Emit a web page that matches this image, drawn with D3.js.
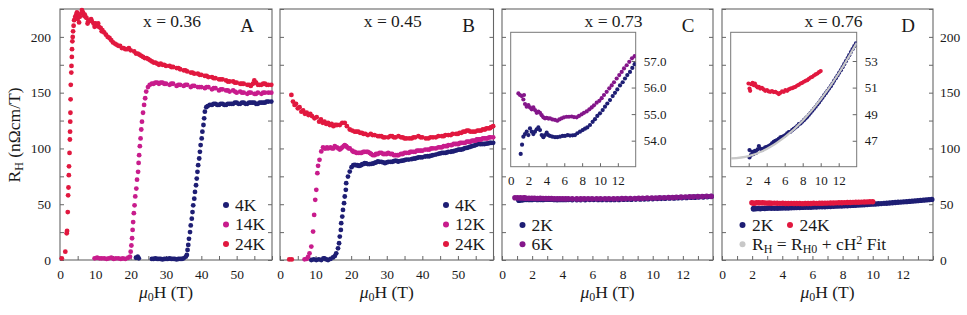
<!DOCTYPE html>
<html>
<head>
<meta charset="utf-8">
<script src="https://cdn.jsdelivr.net/npm/d3@7"></script>
<style>
body { margin: 0; background: #fff; }
svg text { fill: #1a1a1a; }
</style>
</head>
<body>
<svg id="chart" width="967" height="315"></svg>
<script>
// ---- data: [mu0H (T), R_H (nOhm cm/T)] ----
var a24K = [[0.5,1.5],[1.5,7.5],[1.9,24],[2.0,26],[2.2,43],[2.3,58],[2.4,65],[2.5,76],[2.55,84],[2.7,96],[2.8,108],[2.85,115],[2.9,124],[2.95,132],[3.0,144],[3.05,157],[3.2,168],[3.25,174],[3.35,182],[3.4,189],[3.5,196],[3.6,200],[3.7,205],[3.85,210],[4.0,215],[4.3,218],[4.6,220],[4.8,222],[5.0,216],[5.3,219],[5.4,213],[5.6,218],[6.0,221],[6.2,224],[6.5,222],[6.8,219],[7.0,220],[7.2,218],[7.5,217],[7.8,212],[8.0,214],[8.5,215],[8.8,216],[9.0,214],[9.5,212],[9.8,209],[10,212],[10.5,210],[10.8,212],[11,209],[11.5,208],[11.8,205],[12,206],[12.5,204],[13,202],[13.5,200],[14,199],[14.5,197],[15,195],[15.5,194],[16,193],[16.5,192],[17,192],[17.5,190],[18,190],[18.5,189],[19,189],[19.5,190],[20,188],[21,187],[21.5,185],[22,185],[22.5,184],[23,183],[23.5,182],[24,181],[24.5,181],[25,180],[25.5,179],[26,178],[26.5,177],[27,177],[27.5,176],[28,175],[28.5,176],[29,175],[29.5,175],[30,174],[31,174],[31.5,173],[32,173],[33,172],[33.5,172],[34,171],[35,170],[35.5,170],[36,169],[37,168],[37.5,168],[38,167],[39,167],[39.5,166],[40,166],[41,165],[41.5,165],[42,164],[43,164],[43.5,163],[44,163],[45,162],[45.5,162],[46,162],[47,161],[47.5,160],[48,160],[49,160],[49.5,159],[50,159],[51,158],[51.5,158],[52,158],[53,157],[53.5,157],[54,156],[54.6,158],[55,161],[55.5,159],[56,157],[56.5,157],[57,157],[57.5,158],[58,158],[58.5,157],[59,157],[59.8,157]];
var a14K = [[9.8,1.5],[10.5,2],[11.2,1.5],[11.8,1.5],[12.5,1.5],[13.2,1],[13.8,1.5],[14.5,2],[15.2,1],[15.8,1.5],[16.5,1.5],[17.2,1],[17.8,1.5],[18.5,1],[19.3,2],[19.8,3],[20.0,7.5],[20.2,13],[20.4,19.5],[20.55,27],[20.7,34],[20.9,42],[21.1,49],[21.3,57],[21.6,64],[21.8,72],[22.1,79],[22.25,87],[22.4,94],[22.6,102],[22.8,109],[23.0,117],[23.2,124],[23.5,132],[23.8,139],[24.1,145],[24.4,151],[24.9,155],[25.4,157],[26,158],[26.5,158],[27,159],[27.5,159],[28,158],[28.5,159],[29,159],[29.5,158],[30,158],[31,157],[31.5,158],[32,158],[33,156],[33.5,157],[34,157],[35,156],[35.5,157],[36,157],[37,155],[37.5,156],[38,156],[39,155],[39.5,155],[40,155],[41,154],[41.5,155],[42,155],[43,153],[43.5,154],[44,154],[45,152],[45.5,153],[46,153],[47,152],[47.5,152],[48,151],[49,152],[49.5,151],[50,150],[51,151],[51.5,150],[52,150],[53,149],[53.5,150],[54,150],[55,149],[55.5,149],[56,150],[57,149],[57.5,150],[58,150],[59,150],[59.8,150]];
var a4K = [[21.5,2],[22,3],[22.3,1.5],[26,1],[26.5,1],[27,1.5],[27.5,1],[28,1],[28.5,1],[29,0.5],[29.5,1],[30,1],[30.5,1],[31,1.5],[31.5,1],[32,1],[32.5,1],[33,0.5],[33.5,1],[34,1],[34.5,1],[35,1.5],[35.6,3],[35.9,4.5],[36.1,9],[36.3,13.5],[36.5,19],[36.8,25],[37.0,31],[37.3,37],[37.5,43],[37.7,49],[38.0,55],[38.2,61],[38.5,67],[38.7,73],[38.9,79],[39.1,85],[39.4,91],[39.6,97],[39.8,103],[40.1,109],[40.3,115],[40.6,121],[40.8,127],[41.0,133],[41.4,137],[41.8,138],[42.4,139],[43,139],[43.5,140],[44,140],[44.5,139],[45,139],[45.5,140],[46,140],[46.5,139],[47,139],[47.5,140],[48,140],[48.5,140],[49,140],[49.5,141],[50,141],[50.5,140],[51,140],[51.5,141],[52,141],[52.5,140],[53,140],[53.5,141],[54,141],[54.5,141],[55,141],[55.5,140],[56,140],[56.5,141],[57,141],[57.5,141],[58,141],[58.5,142],[59,142],[59.8,142]];

var b24K = [[2.6,0.5],[3.3,0.5],[3.2,148],[3.65,142],[4.1,139],[4.5,140],[5.0,136],[5.5,137],[6.0,133],[6.5,134],[7.0,131],[7.5,132],[8.0,130],[8.5,131],[9.0,129],[9.7,127],[10.3,128],[11,124],[11.5,126],[12,123],[12.5,124],[13,122],[13.5,123],[14,121],[14.5,122],[15,120],[15.5,121],[16,121],[16.8,121],[17.5,123],[18.2,123],[18.8,120],[19.6,117],[20.3,116],[21,115],[21.5,115],[22,115],[22.5,114],[23,114],[23.5,113],[24,113],[24.7,112],[25.5,113],[26,112],[26.6,112],[27.5,111],[28,111],[28.5,111],[29,110],[29.5,110],[30.4,110],[31,111],[31.5,111],[32,110],[32.5,110],[33.3,111],[34,110],[34.5,110],[35,109],[35.5,109],[36.3,109],[37,109],[37.5,110],[38,110],[38.9,111],[39.5,110],[40,110],[41,109],[41.7,109],[42.3,110],[43,110],[43.8,110],[44.5,111],[45.5,111],[46,111],[46.5,112],[47.3,112],[48,112],[48.5,113],[49.5,113],[50,113],[50.5,114],[51,114],[51.5,115],[52,115],[52.5,116],[53,116],[53.5,115],[54.2,115],[54.8,115],[55.5,116],[56,116],[56.5,116],[57,117],[57.6,117],[58,118],[58.5,118],[59,118],[59.3,119],[59.9,120]];
var b12K = [[6.9,0.6],[7.5,1],[7.9,2.7],[8.3,6],[8.8,12],[9.3,25.5],[9.6,40.4],[9.9,53.9],[10.2,62.9],[10.5,77.8],[10.7,84.4],[11.1,89.8],[11.6,97.3],[12.1,101],[12.5,100],[12.8,100],[13.2,101],[13.5,100],[14.2,101],[14.6,100],[15,100],[15.4,102],[16,101],[16.4,100],[16.8,99],[17.2,100],[17.5,101],[17.9,102],[18.2,103],[18.6,102],[18.9,101],[19.3,100],[19.6,100],[20.3,98],[20.6,97],[21,97],[21.5,96],[22,96],[22.5,96],[22.9,96],[23.4,97],[23.8,97],[24.3,97],[24.7,97],[25.2,96],[25.6,95],[26.1,94],[26.6,94],[27,95],[27.5,95],[28,96],[28.5,96],[29,95],[29.5,95],[30,95],[30.4,96],[31,95],[31.5,95],[32,94],[32.5,94],[33,94],[33.3,94],[34,95],[34.5,95],[35,96],[35.5,96],[36.2,96],[36.6,97],[37,97],[37.5,97],[38,97],[38.5,98],[39,98],[39.5,98],[40,98],[40.8,99],[41.5,99],[42,99],[42.5,100],[43,100],[43.8,100],[44.5,101],[45,101],[45.5,101],[46,102],[46.5,102],[47,102],[47.3,103],[48,103],[48.3,103],[48.8,104],[49.3,104],[49.8,104],[50.2,104],[50.6,105],[51,105],[51.5,105],[52,105],[52.5,106],[53,106],[53.5,106],[54,107],[54.5,107],[55,107],[55.3,108],[55.7,108],[56.2,108],[56.5,108],[57,109],[57.5,109],[58,109],[58.3,109],[58.8,110],[59.2,110],[59.9,110]];
var b4K = [[8.8,0],[9.5,0.5],[10.2,0],[10.9,0.5],[11.6,0],[12.2,1.5],[12.5,1.5],[13.0,0.5],[13.5,0],[14.2,1],[14.9,2.4],[15.4,3.5],[15.8,6],[16.3,10.5],[16.6,15],[16.8,21],[17.1,27],[17.2,33],[17.5,38.9],[17.7,44.9],[18.0,50.9],[18.2,56.9],[18.5,62.9],[18.6,68.9],[19.1,74.8],[19.6,79.3],[20.1,83.2],[20.6,85],[21,85.3],[21.3,85],[21.7,85],[22,84.5],[22.4,84.4],[22.8,85],[23.1,86],[23.5,86],[23.8,86.8],[24.2,86.5],[24.7,86],[25.2,86],[25.7,86.2],[26.2,86.5],[26.6,87],[27,87.5],[27.5,88.3],[28,88],[28.5,88],[29,87.5],[29.5,86.8],[30,87.5],[30.4,88],[31,88],[31.5,88],[32,88.5],[32.5,89],[33,88.5],[33.3,88.3],[34,88.8],[34.5,89],[35,89.5],[35.5,90],[36.2,90],[37,90.4],[37.5,90.8],[38,91],[38.5,91.5],[39,92],[39.5,92],[40,92],[40.8,92.8],[41.5,93],[42,93],[42.5,93.5],[43,94],[43.8,94.5],[44.5,95.2],[45,95.5],[45.5,96],[46,96],[46.5,96],[47,96.5],[47.3,97],[48,97],[48.3,97.3],[48.8,97.5],[49.3,98],[49.8,98.5],[50.2,99],[50.6,99],[51,99],[51.5,99.5],[52,100.3],[52.5,100.5],[53,101],[53.5,101.5],[54,102],[54.5,102.5],[55,103],[55.3,103.5],[55.7,104.2],[56.2,104],[56.5,104],[57,104],[57.5,104],[58,104.3],[58.5,104.5],[59,105],[59.3,105],[59.9,105]];

var c2K = [[1.12,53.50],[1.27,53.85],[1.42,54.15],[1.6,54.25],[1.79,54.34],[1.98,54.21],[2.16,54.46],[2.35,54.34],[2.54,54.25],[2.72,54.34],[2.91,54.43],[3.1,54.5],[3.28,54.4],[3.47,54.21],[3.66,54.13],[3.84,54.21],[4.03,54.3],[4.22,54.21],[4.4,54.18],[4.66,54.15],[4.96,54.13],[5.22,54.13],[5.52,54.15],[5.82,54.18],[6.08,54.18],[6.38,54.21],[6.64,54.19],[6.94,54.2],[7.2,54.21],[7.46,54.28],[7.76,54.34],[8.06,54.4],[8.32,54.45],[8.58,54.5],[8.88,54.59],[9.18,54.71],[9.44,54.81],[9.7,54.93],[10.0,55.03],[10.3,55.15],[10.56,55.28],[10.82,55.4],[11.12,55.53],[11.42,55.68],[11.68,55.8],[11.94,55.93],[12.24,56.08],[12.54,56.2],[12.8,56.34],[13.06,56.47],[13.36,56.59],[13.62,56.74],[13.88,56.88]];
var c6K = [[0.86,55.78],[1.04,55.72],[1.23,55.68],[1.42,55.55],[1.49,55.72],[1.6,55.38],[1.79,55.28],[1.98,55.34],[2.16,55.25],[2.35,55.18],[2.54,55.25],[2.72,55.15],[2.91,55.05],[3.1,55.09],[3.28,55.05],[3.47,54.96],[3.66,54.88],[3.84,54.84],[4.03,54.86],[4.22,54.83],[4.4,54.84],[4.66,54.8],[4.96,54.78],[5.22,54.75],[5.45,54.8],[5.71,54.84],[5.97,54.88],[6.27,54.9],[6.53,54.9],[6.83,54.91],[7.09,54.89],[7.39,54.88],[7.65,54.93],[7.95,54.99],[8.21,55.05],[8.51,55.1],[8.81,55.18],[9.07,55.25],[9.33,55.33],[9.63,55.43],[9.93,55.5],[10.19,55.6],[10.45,55.72],[10.75,55.84],[11.04,55.97],[11.31,56.08],[11.57,56.2],[11.87,56.34],[12.16,56.47],[12.43,56.59],[12.69,56.72],[12.99,56.84],[13.28,56.97],[13.58,57.1],[13.88,57.18]];

var d2K = [[2.09,46.3],[2.09,45.75],[2.24,45.92],[2.39,46.17],[2.54,46.0],[2.69,46.25],[2.84,46.1],[2.99,46.35],[3.13,46.6],[3.28,46.42],[3.47,46.3],[3.66,46.42],[3.84,46.5],[4.03,46.55],[4.22,46.6],[4.4,46.67],[4.59,46.8],[4.78,46.92],[4.96,47.0],[5.15,47.05],[5.34,47.15],[5.52,47.25],[5.71,47.3],[5.9,47.35],[6.08,47.43],[6.27,47.55],[6.46,47.65],[6.64,47.68],[6.83,47.8],[7.01,47.9],[7.2,48.0],[7.39,48.1],[7.57,48.25],[7.76,48.3],[7.95,48.43],[8.13,48.55],[8.32,48.68],[8.51,48.8],[8.69,48.95],[8.88,49.1],[9.07,49.26],[9.25,49.41],[9.44,49.56],[9.63,49.73],[9.81,49.88],[10.0,50.06],[10.19,50.23],[10.37,50.41],[10.56,50.58],[10.75,50.76],[10.93,50.93],[11.12,51.11],[11.31,51.31],[11.49,51.51],[11.68,51.71],[11.87,51.91],[12.05,52.11],[12.24,52.31],[12.43,52.54],[12.61,52.76],[12.8,52.99],[12.99,53.22],[13.17,53.44],[13.36,53.67],[13.54,53.89],[13.73,54.12],[13.92,54.32]];
var d24K = [[1.98,51.31],[2.09,50.93],[2.16,50.76],[2.28,51.26],[2.43,51.36],[2.54,51.19],[2.69,51.31],[2.84,51.11],[2.99,51.01],[3.13,51.06],[3.28,50.93],[3.47,50.98],[3.66,50.86],[3.84,50.76],[4.03,50.81],[4.22,50.71],[4.4,50.68],[4.59,50.73],[4.78,50.66],[4.96,50.68],[5.15,50.61],[5.34,50.51],[5.52,50.61],[5.71,50.71],[5.9,50.68],[6.08,50.81],[6.27,50.76],[6.46,50.86],[6.64,50.93],[6.83,50.96],[7.01,51.01],[7.2,51.06],[7.39,51.16],[7.57,51.21],[7.76,51.31],[7.95,51.36],[8.13,51.44],[8.32,51.51],[8.51,51.56],[8.69,51.66],[8.88,51.76],[9.07,51.81],[9.25,51.91],[9.44,51.99],[9.63,52.06],[9.81,52.16],[10.0,52.24]];
var dFit = [[0,45.67],[2,45.85],[4,46.38],[6,47.27],[8,48.51],[10,50.11],[12,52.06],[14,54.37]];

// ---- tick labels / text ----
var yTickLabels = [0, 50, 100, 150, 200];
var abTickLabels = [0, 10, 20, 30, 40, 50];
var cdTickLabels = [0, 2, 4, 6, 8, 10, 12];
var insetCXLabels = [0, 2, 4, 6, 8, 10, 12];
var insetCYLabels = [54, 55, 56, 57];
var insetDXLabels = [2, 4, 6, 8, 10, 12];
var insetDYLabels = [47, 49, 51, 53];
var titles = ["x = 0.36", "x = 0.45", "x = 0.73", "x = 0.76"];
var letters = ["A", "B", "C", "D"];
var legendA = ["4K", "14K", "24K"];
var legendB = ["4K", "12K", "24K"];
var legendC = ["2K", "6K"];
var legendD = ["2K", "24K"];

var navy = "#1e1e74", magenta = "#c81c8c", red = "#e1183f", purple = "#84168a", fitGray = "#c8c8c8";
var frameColor = "#666";
var serif = "Liberation Serif";

var svg = d3.select("#chart");
var plotTop = 9, plotBottom = 260;
var y = d3.scaleLinear().domain([0, 225]).range([plotBottom, plotTop]);

var panels = [
    {left: 60, right: 272, xmax: 60, minor: d3.range(0, 61, 5), labels: abTickLabels, r: 2.4,
     series: [[a4K, navy], [a14K, magenta], [a24K, red]], legend: legendA, legendColors: [navy, magenta, red],
     legendX: 226, legendY: [205, 224.5, 244]},
    {left: 280, right: 493.5, xmax: 60, minor: d3.range(0, 61, 5), labels: abTickLabels, r: 2.4,
     series: [[b4K, navy], [b12K, magenta], [b24K, red]], legend: legendB, legendColors: [navy, magenta, red],
     legendX: 446, legendY: [205, 224.5, 244]},
    {left: 502, right: 713, xmax: 14, minor: d3.range(0, 15, 1), labels: cdTickLabels, r: 2.8,
     series: [[c2K, navy], [c6K, purple]], legend: legendC, legendColors: [navy, purple],
     legendX: 522.5, legendY: [225, 244.3]},
    {left: 722, right: 933, xmax: 14, minor: d3.range(0, 15, 1), labels: cdTickLabels, r: 2.7,
     series: [[d2K, navy], [d24K, red]]}
];

function styleAxis(g, size) {
    g.attr("font-family", serif).attr("font-size", size);
    g.select(".domain").remove();
    g.selectAll("line").attr("stroke", frameColor);
    g.selectAll("text").attr("fill", "#1a1a1a").attr("font-family", serif);
}

function dots(g, data, x, yy, r, color) {
    g.append("g").selectAll("circle")
        .data(data)
        .join("circle")
        .attr("cx", (d) => x(d[0]))
        .attr("cy", (d) => yy(d[1]))
        .attr("r", r)
        .attr("fill", color);
}

function label(g, xx, yy, size) {
    return g.append("text").attr("x", xx).attr("y", yy)
        .attr("font-family", serif).attr("font-size", size);
}

panels.forEach((p, i) => {
    var g = svg.append("g");
    var x = d3.scaleLinear().domain([0, p.xmax]).range([p.left, p.right]);

    g.append("rect")
        .attr("x", p.left).attr("y", plotTop)
        .attr("width", p.right - p.left).attr("height", plotBottom - plotTop)
        .attr("fill", "none").attr("stroke", frameColor).attr("stroke-width", 1.1);

    // bottom ticks (inward) and labels
    styleAxis(g.append("g").attr("transform", "translate(0," + plotBottom + ")")
        .call(d3.axisBottom(x).tickValues(p.minor).tickSize(-4).tickFormat("")), 13.5);
    styleAxis(g.append("g").attr("transform", "translate(0," + plotBottom + ")")
        .call(d3.axisBottom(x).tickValues(p.labels).tickSize(0).tickPadding(9).tickFormat(d3.format("d"))), 13.5);

    // left and right ticks
    var yMinor = d3.range(0, 226, 25);
    styleAxis(g.append("g").attr("transform", "translate(" + p.left + ",0)")
        .call(d3.axisLeft(y).tickValues(yMinor).tickSize(-4).tickFormat(i === 0 ? ((d) => d % 50 === 0 ? d : "") : "").tickPadding(9)), 13.5);
    styleAxis(g.append("g").attr("transform", "translate(" + p.right + ",0)")
        .call(d3.axisRight(y).tickValues(yMinor).tickSize(-4).tickFormat(i === 3 ? ((d) => d % 50 === 0 ? d : "") : "").tickPadding(7)), 13.5);

    // title and panel letter
    label(g, (p.left + p.right) / 2 + 6, 26.5, 17.5).attr("text-anchor", "middle").text(titles[i]);
    label(g, p.right - 25, 31.5, 19).attr("text-anchor", "middle").text(letters[i]);

    // x-axis title
    var xt = label(g, (p.left + p.right) / 2, 297.5, 17.5).attr("text-anchor", "middle");
    xt.append("tspan").attr("font-style", "italic").text("\u03bc");
    xt.append("tspan").attr("font-size", 12).attr("dy", 3).text("0");
    xt.append("tspan").attr("dy", -3).text("H (T)");

    p.series.forEach((s) => dots(g, s[0], x, y, p.r, s[1]));

    // legend
    if (p.legend) {
        p.legend.forEach((lab, k) => {
            g.append("circle").attr("cx", p.legendX).attr("cy", p.legendY[k]).attr("r", 3).attr("fill", p.legendColors[k]);
            label(g, p.legendX + 9, p.legendY[k] + 5.5, 17.5).text(lab);
        });
    }
});

// panel D legend
var lg = svg.append("g");
lg.append("circle").attr("cx", 742.5).attr("cy", 225).attr("r", 3).attr("fill", navy);
label(lg, 752, 230.5, 17.5).text(legendD[0]);
lg.append("circle").attr("cx", 790).attr("cy", 225).attr("r", 3).attr("fill", red);
label(lg, 799.5, 230.5, 17.5).text(legendD[1]);
lg.append("circle").attr("cx", 742.5).attr("cy", 244.3).attr("r", 3).attr("fill", fitGray);
var ft = label(lg, 752, 249.8, 17.5);
ft.append("tspan").text("R");
ft.append("tspan").attr("font-size", 12).attr("dy", 3).text("H");
ft.append("tspan").attr("dy", -3).text(" = R");
ft.append("tspan").attr("font-size", 12).attr("dy", 3).text("H0");
ft.append("tspan").attr("dy", -3).text(" + cH");
ft.append("tspan").attr("font-size", 12).attr("dy", -6).text("2");
ft.append("tspan").attr("dy", 6).text(" Fit");

// y-axis title
var yt = label(svg, 0, 0, 17.5).attr("transform", "translate(19.5,135) rotate(-90)")
    .attr("text-anchor", "middle");
yt.append("tspan").text("R");
yt.append("tspan").attr("font-size", 12).attr("dy", 3).text("H");
yt.append("tspan").attr("dy", -3).text(" (n\u03a9cm/T)");

// ---- insets ----
function inset(cfg) {
    var g = svg.append("g");
    var x = d3.scaleLinear().domain([0, 14]).range([cfg.left, cfg.right]);
    var yy = d3.scaleLinear().domain(cfg.ydom).range([cfg.bottom, cfg.top]);
    g.append("rect").attr("x", cfg.left).attr("y", cfg.top)
        .attr("width", cfg.right - cfg.left).attr("height", cfg.bottom - cfg.top)
        .attr("fill", "#fff").attr("stroke", "#777").attr("stroke-width", 1);
    var clipId = "clip" + cfg.id;
    g.append("clipPath").attr("id", clipId).append("rect")
        .attr("x", cfg.left).attr("y", cfg.top).attr("width", cfg.right - cfg.left).attr("height", cfg.bottom - cfg.top);

    styleAxis(g.append("g").attr("transform", "translate(0," + cfg.bottom + ")")
        .call(d3.axisBottom(x).tickValues(d3.range(2, 14, 2)).tickSize(-3.5).tickFormat("")), 12);
    styleAxis(g.append("g").attr("transform", "translate(0," + cfg.bottom + ")")
        .call(d3.axisBottom(x).tickValues(cfg.xlabels).tickSize(0).tickPadding(9.5).tickFormat(d3.format("d"))), 13);
    styleAxis(g.append("g").attr("transform", "translate(" + cfg.right + ",0)")
        .call(d3.axisRight(yy).tickValues(cfg.ylabels).tickSize(-4).tickPadding(8).tickFormat(cfg.yfmt)), 13);

    var data = g.append("g").attr("clip-path", "url(#" + clipId + ")");
    cfg.series.forEach((s) => dots(data, s[0], x, yy, 2.1, s[1]));
    if (cfg.fit) {
        data.append("path").datum(cfg.fit)
            .attr("d", d3.line().x((d) => x(d[0])).y((d) => yy(d[1])).curve(d3.curveMonotoneX))
            .attr("fill", "none").attr("stroke", fitGray).attr("stroke-width", 2.2);
    }
}

inset({id: "C", left: 510.7, right: 635.7, top: 32.3, bottom: 166.7, ydom: [53.02, 58.08],
       xlabels: insetCXLabels, ylabels: insetCYLabels, yfmt: d3.format(".1f"),
       series: [[c2K, navy], [c6K, purple]]});
inset({id: "D", left: 730.7, right: 856.7, top: 32.3, bottom: 166.7, ydom: [45.05, 55.16],
       xlabels: insetDXLabels, ylabels: insetDYLabels, yfmt: d3.format("d"),
       series: [[d2K, navy], [d24K, red]], fit: dFit});
</script>
</body>
</html>
